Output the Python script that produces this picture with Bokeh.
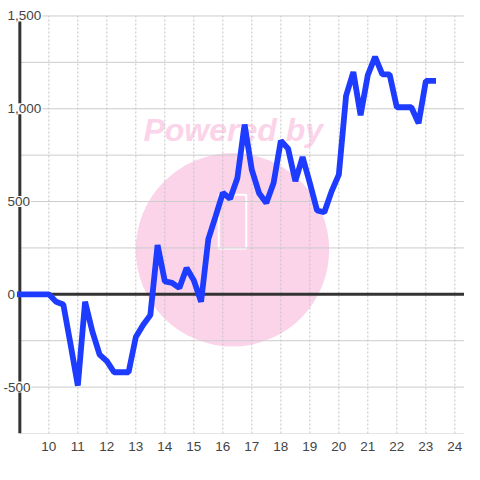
from bokeh.plotting import figure
from bokeh.models import Range1d, FixedTicker, ColumnDataSource
from bokeh.core.properties import value
from bokeh.embed import file_html
from bokeh.resources import INLINE

# ---- data ----
hours = [9.0, 9.25, 9.5, 9.75, 10.0, 10.25, 10.5, 10.75, 11.0, 11.25, 11.5, 11.75,
         12.0, 12.25, 12.5, 12.75, 13.0, 13.25, 13.5, 13.75, 14.0, 14.25, 14.5, 14.75,
         15.0, 15.25, 15.5, 15.75, 16.0, 16.25, 16.5, 16.75, 17.0, 17.25, 17.5, 17.75,
         18.0, 18.25, 18.5, 18.75, 19.0, 19.25, 19.5, 19.75, 20.0, 20.25, 20.5, 20.75,
         21.0, 21.25, 21.5, 21.75, 22.0, 22.25, 22.5, 22.75, 23.0, 23.25]
values = [0, 0, 0, 0, 0, -40, -55, -270, -492, -40, -200, -325,
          -360, -420, -420, -420, -230, -165, -112, 265, 70, 62, 34, 142,
          75, -40, 298, 420, 547, 515, 625, 915, 670, 545, 492, 600,
          828, 785, 610, 740, 600, 452, 442, 555, 645, 1070, 1198, 965,
          1182, 1280, 1185, 1185, 1008, 1008, 1008, 922, 1150, 1150]

x_ticks = [10, 11, 12, 13, 14, 15, 16, 17, 18, 19, 20, 21, 22, 23, 24]
y_grid = [-750, -500, -250, 0, 250, 500, 750, 1000, 1250, 1500]
y_label_vals = [1500, 1000, 500, 0, -500]
y_labels = ["1,500", "1,000", "500", "0", "-500"]

X_START, X_END = 8.3333, 24.3333
Y_START, Y_END = -750, 1583.33
AXIS_X = 9.0

FONT = value("Liberation Sans")
LABEL_COLOR = "#444444"
PINK = "#fbd4ea"

p = figure(width=464, height=464, output_backend="svg", toolbar_location=None,
           x_range=Range1d(X_START, X_END), y_range=Range1d(Y_START, Y_END),
           y_axis_location=None,
           min_border_left=0, min_border_right=0, min_border_top=0, min_border_bottom=31)
p.outline_line_color = None
p.xgrid.grid_line_color = None
p.ygrid.grid_line_color = None
p.background_fill_color = "white"
p.border_fill_color = "white"

# watermark
wm_x, wm_y = 16.333, 240
p.circle(x=[wm_x], y=[wm_y], radius=96.7, radius_units="screen",
         fill_color=PINK, line_color=None)
p.rect(x=[wm_x], y=[392], width=0.95, height=290, fill_color=None,
       line_color="white", line_width=2)
p.text(x=[16.36], y=[885], text=["Powered by"], text_align="center",
       text_baseline="middle", text_font=FONT, text_font_style="bold italic",
       text_font_size="32px", text_color=PINK)

# grid
ng = len(y_grid)
p.segment(x0=[AXIS_X] * ng, y0=y_grid, x1=[X_END] * ng, y1=y_grid,
          line_color="#cccccc", line_width=1)
nt = len(x_ticks)
p.segment(x0=x_ticks, y0=[y_grid[0]] * nt, x1=x_ticks, y1=[y_grid[-1]] * nt,
          line_color="#c4c4c4", line_width=1, line_dash="2 2")

# zero line and y axis line
p.segment(x0=[AXIS_X], y0=[0], x1=[X_END], y1=[0], line_color="#333333", line_width=3)
p.segment(x0=[AXIS_X], y0=[y_grid[0]], x1=[AXIS_X], y1=[y_grid[-1]],
          line_color="#333333", line_width=3)

# series
p.line(hours, values, line_color="#1e3cff", line_width=5.8,
       line_join="bevel", line_cap="square")

# y labels
src = ColumnDataSource(dict(
    x=[X_START] * len(y_labels), y=y_label_vals, text=y_labels,
    xo=[2 if s.startswith("-") else 6 for s in y_labels]))
p.text(x="x", y="y", text="text", x_offset="xo", source=src,
       text_align="left", text_baseline="middle", text_font=FONT,
       text_font_size="13.5px", text_color=LABEL_COLOR,
       background_fill_color="white", padding=1)

# x axis
ax = p.xaxis[0]
ax.ticker = FixedTicker(ticks=x_ticks)
ax.axis_line_color = None
ax.major_tick_line_color = None
ax.minor_tick_line_color = None
ax.major_label_standoff = 2
ax.major_label_text_font = "Liberation Sans"
ax.major_label_text_font_size = "13.5px"
ax.major_label_text_color = LABEL_COLOR

open("out.html", "w").write(file_html(p, INLINE))
